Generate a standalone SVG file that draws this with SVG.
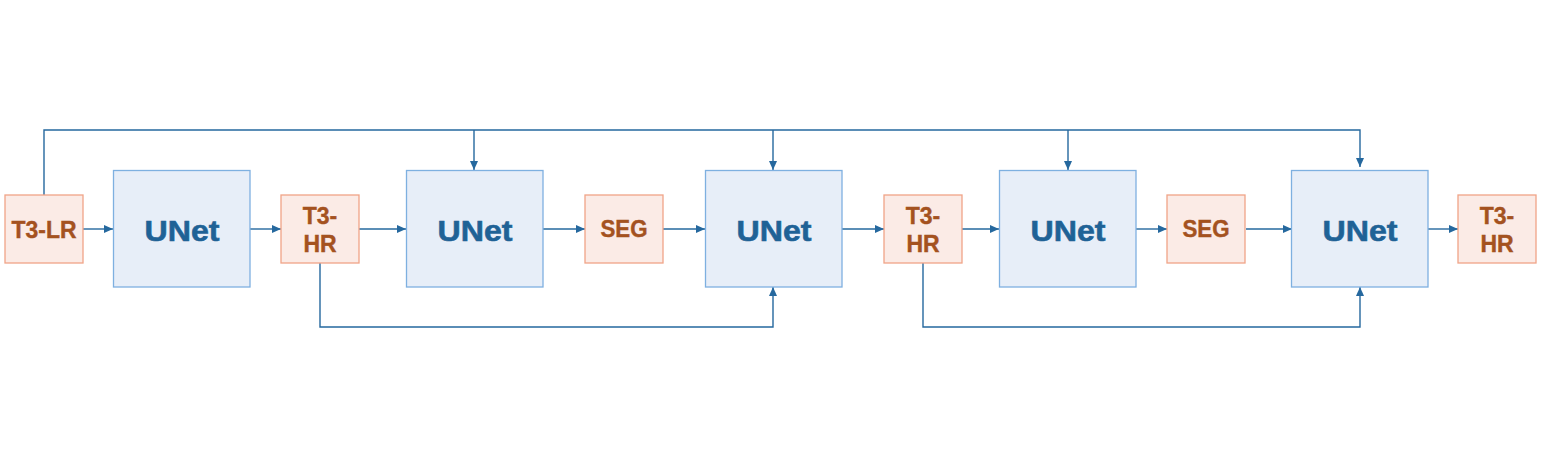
<svg xmlns="http://www.w3.org/2000/svg" width="1552" height="449" viewBox="0 0 1552 449">
<defs>
<marker id="ah" markerWidth="9" markerHeight="8" refX="9" refY="4" orient="auto" markerUnits="userSpaceOnUse">
<path d="M0,0 L9,4 L0,8 Z" fill="#25689e"/>
</marker>
<style>
.s{fill:#fbebe6;stroke:#f0a487;stroke-width:1.3}
.u{fill:#e7eef8;stroke:#7eb0e0;stroke-width:1.3}
.st{font-family:"Liberation Sans",Arial,sans-serif;font-weight:bold;font-size:23px;fill:#a4521f;stroke:#a4521f;stroke-width:0.4;text-anchor:middle}
.ut{font-family:"Liberation Sans",Arial,sans-serif;font-weight:bold;font-size:30px;fill:#1f6296;stroke:#1f6296;stroke-width:0.6;text-anchor:middle}
.c{fill:none;stroke:#25689e;stroke-width:1.4}
</style>
</defs>
<rect width="1552" height="449" fill="#ffffff"/>
<g id="connectors">
<path class="c" d="M44,195 V130 H1360 V167" marker-end="url(#ah)"/>
<path class="c" d="M474,130 V170" marker-end="url(#ah)"/>
<path class="c" d="M773,130 V170" marker-end="url(#ah)"/>
<path class="c" d="M1068,130 V170" marker-end="url(#ah)"/>
<path class="c" d="M320,263 V327 H773 V287" marker-end="url(#ah)"/>
<path class="c" d="M923,263 V327 H1360 V287" marker-end="url(#ah)"/>
<path class="c" d="M83,229 H113" marker-end="url(#ah)"/>
<path class="c" d="M250,229 H281" marker-end="url(#ah)"/>
<path class="c" d="M359,229 H406" marker-end="url(#ah)"/>
<path class="c" d="M543,229 H585" marker-end="url(#ah)"/>
<path class="c" d="M663,229 H705" marker-end="url(#ah)"/>
<path class="c" d="M842,229 H884" marker-end="url(#ah)"/>
<path class="c" d="M962,229 H999" marker-end="url(#ah)"/>
<path class="c" d="M1136,229 H1167" marker-end="url(#ah)"/>
<path class="c" d="M1246,229 H1292" marker-end="url(#ah)"/>
<path class="c" d="M1428,229 H1458" marker-end="url(#ah)"/>
</g>
<g id="t3lr"><rect class="s" x="5" y="195" width="78" height="68"/><text class="st" x="44" y="238" textLength="65" lengthAdjust="spacingAndGlyphs">T3-LR</text></g>
<g id="unet1"><rect class="u" x="113.5" y="170.5" width="136.5" height="116.5"/><text class="ut" x="182" y="241" textLength="75" lengthAdjust="spacingAndGlyphs">UNet</text></g>
<g id="t3hr1"><rect class="s" x="281" y="195" width="78" height="68"/><text class="st" x="320" y="224">T3-</text><text class="st" x="320" y="252">HR</text></g>
<g id="unet2"><rect class="u" x="406.5" y="170.5" width="136.5" height="116.5"/><text class="ut" x="475" y="241" textLength="75" lengthAdjust="spacingAndGlyphs">UNet</text></g>
<g id="seg1"><rect class="s" x="585" y="195" width="78" height="68"/><text class="st" x="624" y="237" textLength="47" lengthAdjust="spacingAndGlyphs">SEG</text></g>
<g id="unet3"><rect class="u" x="705.5" y="170.5" width="136.5" height="116.5"/><text class="ut" x="774" y="241" textLength="75" lengthAdjust="spacingAndGlyphs">UNet</text></g>
<g id="t3hr2"><rect class="s" x="884" y="195" width="78" height="68"/><text class="st" x="923" y="224">T3-</text><text class="st" x="923" y="252">HR</text></g>
<g id="unet4"><rect class="u" x="999.5" y="170.5" width="136.5" height="116.5"/><text class="ut" x="1068" y="241" textLength="75" lengthAdjust="spacingAndGlyphs">UNet</text></g>
<g id="seg2"><rect class="s" x="1167" y="195" width="78" height="68"/><text class="st" x="1206" y="237" textLength="47" lengthAdjust="spacingAndGlyphs">SEG</text></g>
<g id="unet5"><rect class="u" x="1291.5" y="170.5" width="136.5" height="116.5"/><text class="ut" x="1360" y="241" textLength="75" lengthAdjust="spacingAndGlyphs">UNet</text></g>
<g id="t3hr3"><rect class="s" x="1458" y="195" width="78" height="68"/><text class="st" x="1497" y="224">T3-</text><text class="st" x="1497" y="252">HR</text></g>
</svg>
